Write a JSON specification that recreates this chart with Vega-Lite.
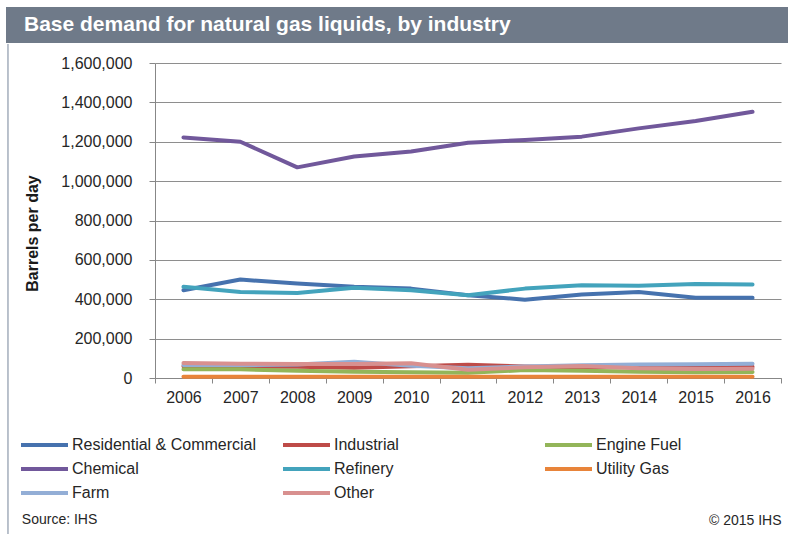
{
  "$schema": "https://vega.github.io/schema/vega-lite/v6.json",
  "padding": {"left": 6, "top": 7, "right": 0, "bottom": 0},
  "background": "white",
  "spacing": 0,
  "config": {"font": "Liberation Sans", "view": {"stroke": null}},
  "vconcat": [
    {
      "width": 782,
      "height": 36,
      "view": {"fill": "#6F7A89", "stroke": null},
      "data": {"values": [{"heading": "Base demand for natural gas liquids, by industry"}]},
      "mark": {"type": "text", "align": "left", "baseline": "middle", "dx": 18, "color": "white", "fontSize": 21, "fontWeight": "bold", "font": "Liberation Sans"},
      "encoding": {
        "x": {"datum": 0, "type": "quantitative", "scale": {"domain": [0, 1]}, "axis": null},
        "text": {"field": "heading"}
      }
    },
    {
      "hconcat": [
        {
          "width": 149,
          "height": 471,
          "data": {"values": [{}]},
          "mark": {"type": "rule", "color": "#A3ADBB", "strokeWidth": 1.5},
          "encoding": {
            "x": {"datum": 0, "type": "quantitative", "scale": {"domain": [-0.0134, 1]}, "axis": null},
            "y": {"datum": 1.0403, "type": "quantitative", "scale": {"domain": [0, 1]}, "axis": null},
            "y2": {"datum": 0}
          }
        },
        {
          "width": 626,
          "height": 315,
          "data": {"values": [
            {"year": "2006", "Residential & Commercial": 446000, "Industrial": 60000, "Engine Fuel": 45000, "Chemical": 1222000, "Refinery": 463000, "Utility Gas": 6000, "Farm": 66000, "Other": 76000},
            {"year": "2007", "Residential & Commercial": 500000, "Industrial": 58000, "Engine Fuel": 44000, "Chemical": 1200000, "Refinery": 437000, "Utility Gas": 6000, "Farm": 66000, "Other": 73000},
            {"year": "2008", "Residential & Commercial": 480000, "Industrial": 57000, "Engine Fuel": 37000, "Chemical": 1070000, "Refinery": 432000, "Utility Gas": 6000, "Farm": 68000, "Other": 71000},
            {"year": "2009", "Residential & Commercial": 463000, "Industrial": 52000, "Engine Fuel": 32000, "Chemical": 1125000, "Refinery": 459000, "Utility Gas": 6000, "Farm": 82000, "Other": 71000},
            {"year": "2010", "Residential & Commercial": 454000, "Industrial": 60000, "Engine Fuel": 29000, "Chemical": 1150000, "Refinery": 446000, "Utility Gas": 6000, "Farm": 62000, "Other": 75000},
            {"year": "2011", "Residential & Commercial": 420000, "Industrial": 67000, "Engine Fuel": 27000, "Chemical": 1195000, "Refinery": 420000, "Utility Gas": 6000, "Farm": 50000, "Other": 42000},
            {"year": "2012", "Residential & Commercial": 398000, "Industrial": 58000, "Engine Fuel": 40000, "Chemical": 1209000, "Refinery": 454000, "Utility Gas": 6000, "Farm": 58000, "Other": 54000},
            {"year": "2013", "Residential & Commercial": 424000, "Industrial": 55000, "Engine Fuel": 37000, "Chemical": 1226000, "Refinery": 471000, "Utility Gas": 6000, "Farm": 65000, "Other": 61000},
            {"year": "2014", "Residential & Commercial": 437000, "Industrial": 54000, "Engine Fuel": 32000, "Chemical": 1268000, "Refinery": 468000, "Utility Gas": 6000, "Farm": 68000, "Other": 49000},
            {"year": "2015", "Residential & Commercial": 408000, "Industrial": 54000, "Engine Fuel": 29000, "Chemical": 1305000, "Refinery": 478000, "Utility Gas": 6000, "Farm": 70000, "Other": 46000},
            {"year": "2016", "Residential & Commercial": 407000, "Industrial": 57000, "Engine Fuel": 30000, "Chemical": 1352000, "Refinery": 475000, "Utility Gas": 6000, "Farm": 72000, "Other": 47000}
          ]},
          "transform": [
            {"fold": ["Residential & Commercial", "Industrial", "Engine Fuel", "Chemical", "Refinery", "Utility Gas", "Farm", "Other"], "as": ["series", "value"]}
          ],
          "title": {"text": "Source: IHS", "orient": "bottom", "anchor": "start", "frame": "bounds", "dx": -3, "offset": -14, "fontSize": 14, "fontWeight": "normal", "color": "#262626", "font": "Liberation Sans"},
          "mark": {"type": "line", "strokeWidth": 4, "strokeJoin": "round", "strokeCap": "round"},
          "encoding": {
            "x": {
              "field": "year", "type": "ordinal",
              "scale": {"type": "band", "paddingInner": 0, "paddingOuter": 0},
              "axis": {
                "title": "© 2015 IHS", "titleAnchor": "end", "titlePadding": 108, "titleFontSize": 14, "titleFontWeight": "normal", "titleColor": "#262626", "titleFont": "Liberation Sans",
                "labelAngle": 0, "labelFontSize": 16, "labelColor": "#262626", "labelPadding": 6, "labelFont": "Liberation Sans",
                "tickBand": "extent", "tickSize": 5, "tickColor": "#878787", "domainColor": "#878787", "grid": false
              }
            },
            "y": {
              "field": "value", "type": "quantitative",
              "scale": {"domain": [0, 1600000], "nice": false},
              "axis": {
                "title": "Barrels per day", "titleFontSize": 16, "titleFontWeight": "bold", "titleColor": "#1a1a1a", "titlePadding": 20, "titleY": 170, "titleFont": "Liberation Sans",
                "values": [0, 200000, 400000, 600000, 800000, 1000000, 1200000, 1400000, 1600000],
                "format": ",d", "labelFontSize": 16, "labelColor": "#262626", "labelPadding": 17, "labelFont": "Liberation Sans",
                "tickSize": 6, "tickColor": "#878787", "domainColor": "#878787",
                "grid": true, "gridColor": "#8E8E8E"
              }
            },
            "color": {
              "field": "series", "type": "nominal",
              "scale": {
                "domain": ["Residential & Commercial", "Industrial", "Engine Fuel", "Chemical", "Refinery", "Utility Gas", "Farm", "Other"],
                "range": ["#4672AE", "#BE4B48", "#93B559", "#71589B", "#43A3BC", "#E8843A", "#93AED6", "#D8908F"]
              },
              "legend": {
                "title": null, "orient": "none", "legendX": 15, "legendY": 428, "padding": 0,
                "direction": "horizontal", "columns": 3, "gridAlign": "all", "columnPadding": 18, "rowPadding": 6,
                "symbolType": "M-1.25,0H4.625", "symbolSize": 256, "symbolStrokeWidth": 4, "labelOffset": 31,
                "labelFontSize": 16, "labelColor": "#262626", "labelFont": "Liberation Sans", "labelLimit": 300
              }
            }
          }
        }
      ],
      "spacing": 0,
      "bounds": "flush"
    }
  ]
}
